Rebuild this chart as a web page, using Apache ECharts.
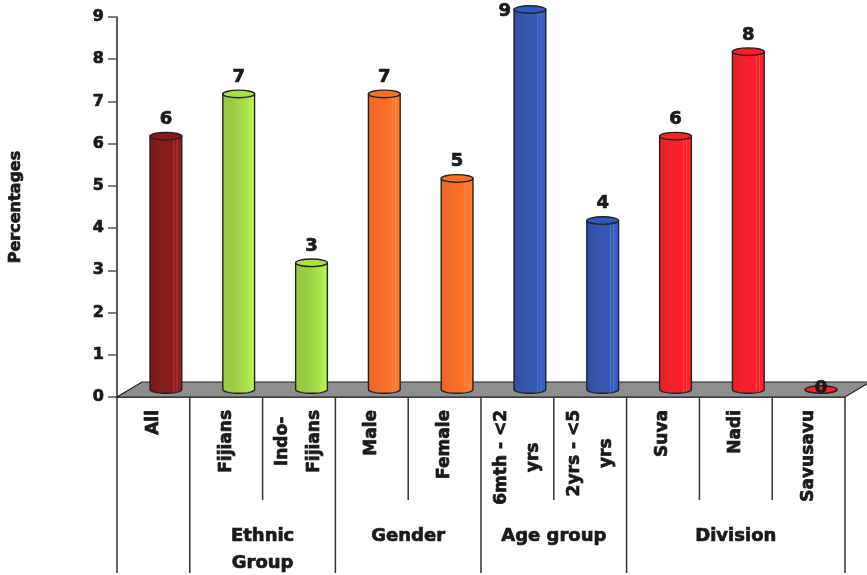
<!DOCTYPE html>
<html><head><meta charset="utf-8">
<script src="https://cdn.jsdelivr.net/npm/echarts@6/dist/echarts.min.js"></script>
<style>html,body{margin:0;padding:0;background:#fff}#c{width:867px;height:575px}</style>
</head><body><div id="c"></div>
<script>
const categories = ['All','Fijians','Indo-\nFijians','Male','Female','6mth - <2\nyrs','2yrs - <5\nyrs','Suva','Nadi','Savusavu'];
const values = [6,7,3,7,5,9,4,6,8,0];
const barColors = ['#7e1518','#97c93d','#97c93d','#f26522','#f26522','#2f4ea7','#2f4ea7','#ed1c24','#ed1c24','#ed1c24'];
const groupNames = ['Ethnic\nGroup','Gender','Age group','Division'];
const groupStart = [1,3,5,7];
const groupEnd = [2,4,6,9];
const yMin = 0, yMax = 9, yStep = 1;

const FONT = 'DejaVu Sans';
const INK = '#1a1a1a';
const HEAVY = {stroke: INK, lineWidth: 0.7};
const HEAVY_OPT = {textBorderColor: INK, textBorderWidth: 0.7};
const DX = 25, DY = 15;
const n = categories.length;
const lift = echarts.color.lift;

const mctx = document.createElement('canvas').getContext('2d');
function textWidth(str, size){
  mctx.font = 'bold ' + size + 'px "' + FONT + '"';
  return Math.max.apply(null, str.split('\n').map(s => mctx.measureText(s).width));
}

function bandLeft(api, i){ return api.coord([i,0])[0] - api.size([1,0])[0]/2; }

const floorSeries = {
  type:'custom', z:1, silent:true, clip:false,
  data:[[0,0]],
  renderItem(params, api){
    const y0 = api.coord([0,0])[1];
    const l = bandLeft(api,0);
    const r = api.coord([n-1,0])[0] + api.size([1,0])[0]/2;
    return {type:'polygon', shape:{points:[[l,y0],[r,y0],[r+DX,y0-DY],[l+DX,y0-DY]]},
      style:{fill:'#8e8e8e', stroke:'#222', lineWidth:1.2}};
  }
};

const longStarts = [0].concat(groupStart);
const dividerData = categories.map((c,i)=>[i, longStarts.includes(i)?1:0, -1]).concat([[n-1,1,1]]);
const dividerSeries = {
  type:'custom', z:3, silent:true, clip:false,
  data: dividerData,
  renderItem(params, api){
    const i = api.value(0), isLong = api.value(1), side = api.value(2);
    const bw = api.size([1,0])[0];
    const p = api.coord([i,0]);
    const x = p[0] + side*bw/2;
    return {type:'line', shape:{x1:x, y1:p[1], x2:x, y2:p[1] + (isLong?176:103)},
      style:{stroke:'#333', lineWidth:1.5}};
  }
};

const catLabelSeries = {
  type:'custom', z:3, silent:true, clip:false,
  data: categories.map((c,i)=>[i,0]),
  renderItem(params, api){
    const i = api.value(0);
    const p = api.coord([i,0]);
    const txt = categories[i];
    const w = textWidth(txt, 17);
    return {type:'text', x:p[0], y:p[1] + 13 + w/2, rotation:Math.PI/2,
      style:Object.assign({text:txt, x:0, y:0, align:'center', verticalAlign:'middle',
        fontFamily:FONT, fontWeight:'bold', fontSize:17, lineHeight:32, fill:INK}, HEAVY)};
  }
};

const groupSeries = {
  type:'custom', z:3, silent:true, clip:false,
  data: groupNames.map((g,k)=>[groupStart[k], groupEnd[k], k]),
  renderItem(params, api){
    const s = api.value(0), e = api.value(1), k = api.value(2);
    const x = (api.coord([s,0])[0] + api.coord([e,0])[0]) / 2;
    const y = api.coord([s,0])[1] + 126;
    return {type:'text', style:Object.assign({text: groupNames[k], x, y, align:'center', verticalAlign:'top',
      fontFamily:FONT, fontWeight:'bold', fontSize:18, lineHeight:27, fill:INK}, HEAVY)};
  }
};

const barSeries = {
  type:'custom', z:5, silent:true, clip:false,
  data: values.map((v,i)=>[i,v]),
  renderItem(params, api){
    const i = api.value(0), v = api.value(1);
    const base = api.coord([i,0]), top = api.coord([i,v]);
    const bw = api.size([1,0])[0];
    const cx = base[0] + DX/2;
    const yb = base[1] - DY/2, yt = top[1] - DY/2;
    const rx = bw*0.218, ry = 3.8;
    const col = barColors[i];
    const pts = [[cx-rx, yt],[cx-rx, yb]];
    for (let k=1;k<20;k++){ const a = Math.PI - Math.PI*k/20; pts.push([cx + rx*Math.cos(a), yb + ry*Math.sin(a)]); }
    pts.push([cx+rx, yb],[cx+rx, yt]);
    const grad = new echarts.graphic.LinearGradient(0,0,1,0,[
      {offset:0, color: lift(col,0.0)},
      {offset:0.35, color: lift(col,0.04)},
      {offset:0.7, color: lift(col,-0.12)},
      {offset:1, color: lift(col,-0.25)}]);
    const children = [
      {type:'polygon', shape:{points:pts}, style:{fill:grad, stroke:'#222', lineWidth:1.4}},
      {type:'line', shape:{x1:cx+rx*0.5, y1:yt, x2:cx+rx*0.5, y2:yb+ry*0.8}, style:{stroke:lift(col,0.35), lineWidth:0.8, opacity:0.7}},
      {type:'line', shape:{x1:cx+rx*0.7, y1:yt, x2:cx+rx*0.7, y2:yb+ry*0.6}, style:{stroke:lift(col,0.35), lineWidth:0.8, opacity:0.7}},
      {type:'ellipse', shape:{cx, cy:yt, rx, ry}, style:{fill:lift(col,-0.12), stroke:'#222', lineWidth:1.4}}
    ];
    let lx = cx, ly = yt - ry - 13, align = 'center';
    if (ly < params.coordSys.y) { lx = cx - rx - 3; ly = yt + 2; align = 'right'; }
    if (v === 0) { ly = yt - 1; }
    children.push({type:'text', style:Object.assign({text:String(Math.round(v)), x:lx, y:ly, align, verticalAlign:'middle',
      fontFamily:FONT, fontWeight:'bold', fontSize:18, fill:INK}, HEAVY)});
    return {type:'group', children};
  }
};

const chart = echarts.init(document.getElementById('c'), null, {renderer:'canvas'});
chart.setOption({
  backgroundColor:'#fff',
  animation:false,
  grid:{left:117, right:22, top:17, bottom:178, containLabel:false, outerBoundsMode:'none'},
  xAxis:{type:'category', data:categories, boundaryGap:true,
    axisLine:{show:true, lineStyle:{color:'#222', width:1.5}},
    axisTick:{show:false},
    axisLabel:{show:false},
    splitLine:{show:false}},
  yAxis:{type:'value', min:yMin, max:yMax, interval:yStep,
    name:'Percentages', nameLocation:'middle', nameRotate:90, nameGap:93,
    nameTextStyle:Object.assign({fontFamily:FONT, fontWeight:'bold', fontSize:16, color:INK}, HEAVY_OPT),
    axisLine:{show:true, lineStyle:{color:'#222', width:1.5}},
    axisTick:{show:true, length:9, lineStyle:{color:'#555', width:1.5}},
    axisLabel:Object.assign({margin:13, fontFamily:FONT, fontWeight:'bold', fontSize:16, color:INK}, HEAVY_OPT),
    splitLine:{show:false}},
  series:[floorSeries, dividerSeries, catLabelSeries, groupSeries, barSeries]
});
</script></body></html>
